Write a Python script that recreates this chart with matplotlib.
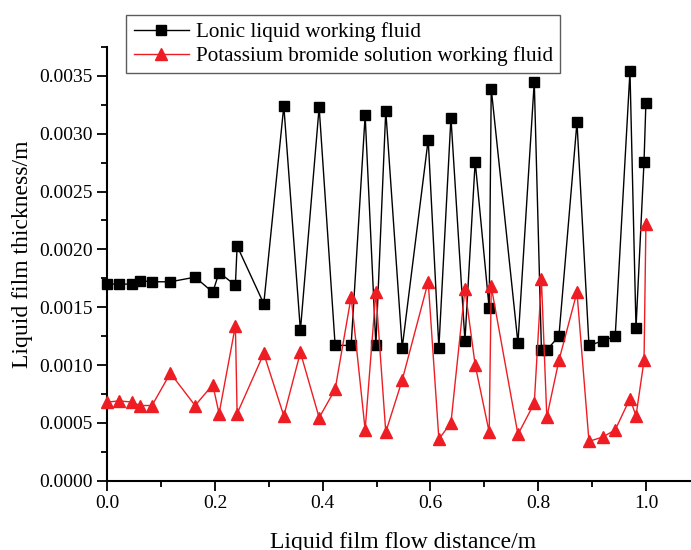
import matplotlib
matplotlib.use('Agg')
import matplotlib.pyplot as plt
from matplotlib.ticker import MultipleLocator

plt.rcParams['font.family'] = ['Liberation Serif', 'DejaVu Serif']
plt.rcParams['mathtext.fontset'] = 'stix'

# film flow distance (m)
distance = [0.0, 0.0223, 0.0453, 0.0607, 0.083, 0.117, 0.163, 0.1958, 0.2075,
            0.2378, 0.241, 0.2905, 0.3277, 0.3585, 0.3933, 0.423, 0.4527,
            0.4787, 0.4986, 0.517, 0.5475, 0.5958, 0.6156, 0.638, 0.664,
            0.683, 0.709, 0.7128, 0.7624, 0.7927, 0.806, 0.816, 0.8385,
            0.872, 0.8943, 0.921, 0.943, 0.9704, 0.9816, 0.9965, 1.0]

# film thickness (m)
ionic = [0.00170, 0.00170, 0.00170, 0.00173, 0.00172, 0.00172, 0.00176,
         0.00163, 0.00180, 0.00169, 0.00203, 0.00153, 0.00324, 0.00130,
         0.00323, 0.00117, 0.00117, 0.00316, 0.00117, 0.00320, 0.00115,
         0.00295, 0.00115, 0.00314, 0.00121, 0.00276, 0.00149, 0.00339,
         0.00119, 0.00345, 0.00113, 0.00113, 0.00125, 0.00310, 0.00117,
         0.00121, 0.00125, 0.00354, 0.00132, 0.00276, 0.00327]

kbr = [0.00068, 0.00069, 0.00068, 0.00065, 0.00065, 0.00093, 0.00065,
       0.00083, 0.00058, 0.00134, 0.00058, 0.00110, 0.00056, 0.00111,
       0.000545, 0.00079, 0.00159, 0.00044, 0.00163, 0.00042, 0.00087,
       0.00172, 0.00036, 0.00050, 0.00166, 0.00100, 0.00042, 0.00168,
       0.00040, 0.00067, 0.00174, 0.00055, 0.00104, 0.00163, 0.00034,
       0.00038, 0.00044, 0.00071, 0.00056, 0.00104, 0.00222]

fig = plt.figure(figsize=(6.91, 5.5), dpi=100)
ax = fig.add_axes([0.1553, 0.126, 0.8574, 0.7885])

ax.plot(distance, ionic, color='black', lw=1.0, marker='s', markersize=7,
        label='Lonic liquid working fluid', clip_on=False, zorder=3)
ax.plot(distance, kbr, color='#EE1D23', lw=1.0, marker='^', markersize=8.5,
        label='Potassium bromide solution working fluid', clip_on=False, zorder=3)

ax.set_xlim(0, 1.1)
ax.set_ylim(0, 0.00375)
ax.xaxis.set_major_locator(MultipleLocator(0.2))
ax.xaxis.set_minor_locator(MultipleLocator(0.1))
ax.yaxis.set_major_locator(MultipleLocator(0.0005))
ax.yaxis.set_minor_locator(MultipleLocator(0.00025))
ax.xaxis.set_major_formatter(lambda v, p: f'{v:.1f}')
ax.yaxis.set_major_formatter(lambda v, p: f'{v:.4f}')

for side in ('top', 'right'):
    ax.spines[side].set_visible(False)
for side in ('left', 'bottom'):
    ax.spines[side].set_linewidth(1.5)

ax.tick_params(which='major', direction='out', length=7, width=1.3, labelsize=14)
ax.tick_params(which='minor', direction='out', length=4, width=1.3)

ax.set_xlabel('Liquid film flow distance/m', fontsize=17, labelpad=14)
ax.set_ylabel('Liquid film thickness/m', fontsize=17)
ax.yaxis.set_label_coords(-0.1254, 0.523)

ax.legend(loc='upper left', bbox_to_anchor=(0.1828, 0.9733), bbox_transform=fig.transFigure,
          fontsize=15.2, frameon=True, fancybox=False, edgecolor='#333333',
          borderpad=0.35, labelspacing=0.2, handlelength=2.6, handletextpad=0.35,
          borderaxespad=0)

fig.savefig('out.png', dpi=100)
